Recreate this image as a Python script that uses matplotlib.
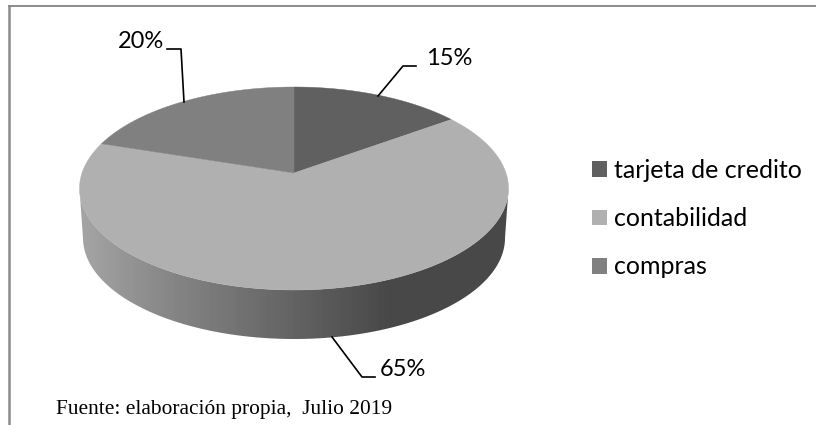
import numpy as np
import matplotlib
matplotlib.use('Agg')
import matplotlib.pyplot as plt
from matplotlib.patches import Patch, Polygon

labels = ['tarjeta de credito', 'contabilidad', 'compras']
values = [15, 65, 20]
pct_labels = ['15%', '65%', '20%']
colors = ['#606060', '#b0b0b0', '#808080']
source = 'Fuente: elaboración propia,  Julio 2019'

# pie geometry in image pixels
cx, cy = 294, 188.5
rx, ry = 214.5, 101.5
tilt = 0.153     # perspective: pushes the centre of the pie up
bot_cx, bot_cy = 294, 238
bot_rx, bot_ry = 211, 101


def project(angle):
    # angle in degrees clockwise from the top of the pie
    a = np.radians(angle)
    u, v = np.sin(a), np.cos(a)
    w = (v + tilt) / (1 + tilt * v)
    x = u * np.sqrt(1 - tilt ** 2) / (1 + tilt * v)
    return cx + rx * x, cy - ry * w


fig = plt.figure(figsize=(8.16, 4.25), dpi=100)
ax = fig.add_axes([0, 0, 1, 1])
ax.set_xlim(0, 816)
ax.set_ylim(425, 0)
ax.axis('off')

# frame
ax.plot([8.5, 8.5], [425, 5], color='#8c8c8c', lw=1.8, solid_capstyle='butt')
ax.plot([7.5, 816], [5.7, 5.7], color='#8c8c8c', lw=1.4, solid_capstyle='butt')

# side wall with the horizontal gradient
t = np.radians(np.linspace(180, 0, 200))
top_x, top_y = cx + rx * np.cos(t), cy + ry * np.sin(t)
low_x, low_y = bot_cx + bot_rx * np.cos(t), bot_cy + bot_ry * np.sin(t)
wall = Polygon(np.column_stack([np.r_[top_x, low_x[::-1]], np.r_[top_y, low_y[::-1]]]),
               closed=True, facecolor='none', edgecolor='none')
ax.add_patch(wall)
grad = np.interp(np.linspace(0, 1, 430), [0, 0.2, 0.72, 1], [165, 135, 72, 72])
img = ax.imshow(grad[None, :], cmap='gray', vmin=0, vmax=255, aspect='auto',
                extent=[79, 509, 345, 185], zorder=2)
img.set_clip_path(wall)
ax.set_xlim(0, 816)
ax.set_ylim(425, 0)

# top of the pie
start = 0
for value, color in zip(values, colors):
    angles = np.linspace(start, start + value * 3.6, 200)
    xs, ys = project(angles)
    pts = np.column_stack([np.r_[cx, xs], np.r_[cy - ry * tilt, ys]])
    ax.add_patch(Polygon(pts, closed=True, facecolor=color, edgecolor=color, lw=0.3, zorder=3))
    start += value * 3.6

# percent labels with their leader lines
ax.plot([378, 403, 416], [96, 66, 66], color='black', lw=1.2, zorder=4)
ax.plot([332, 362, 375], [337, 377, 377], color='black', lw=1.2, zorder=4)
ax.plot([184, 181, 167], [102, 49, 49], color='black', lw=1.2, zorder=4)
ax.text(449, 58, pct_labels[0], fontsize=17, family='Lato', ha='center', va='center')
ax.text(402.5, 369, pct_labels[1], fontsize=17, family='Lato', ha='center', va='center')
ax.text(141, 41, pct_labels[2], fontsize=17, family='Lato', ha='center', va='center')

handles = [Patch(facecolor=c, edgecolor='none') for c in colors]
ax.legend(handles, labels, loc='upper left', bbox_to_anchor=(592 / 816, 1 - 159 / 425),
          frameon=False, borderpad=0, borderaxespad=0, prop={'family': 'Lato', 'size': 18},
          handlelength=0.6, handleheight=0.6, handletextpad=0.28, labelspacing=1.01)

ax.text(56, 414, source, fontsize=15.4, family='Liberation Serif', ha='left', va='baseline')

fig.savefig('out.png', dpi=100)
